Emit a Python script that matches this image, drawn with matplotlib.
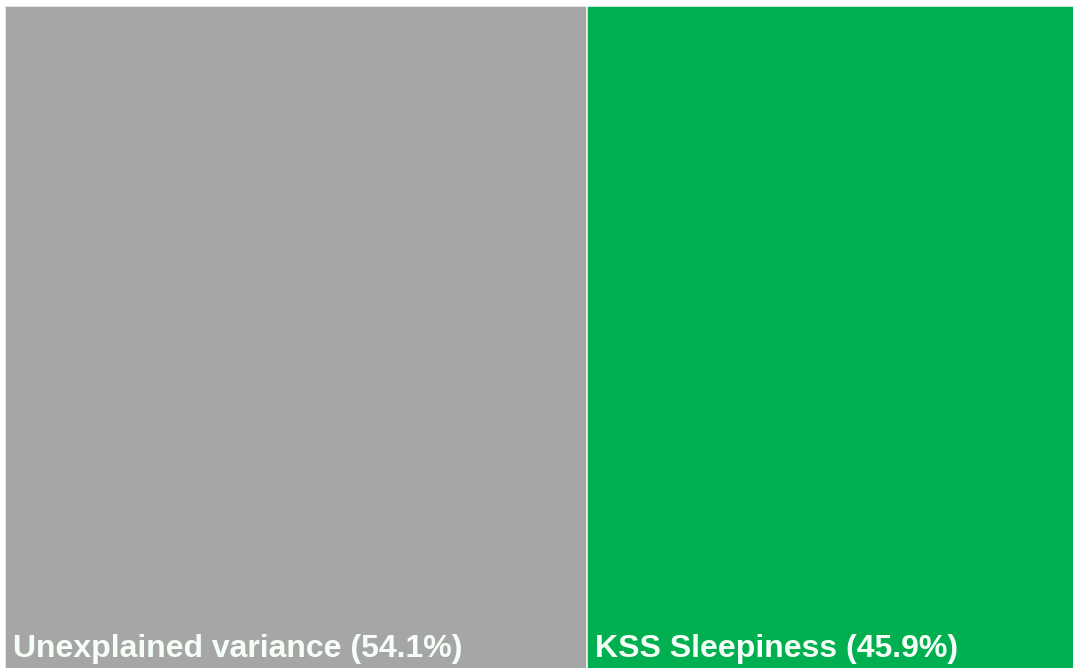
import matplotlib.pyplot as plt
import numpy as np

labels = ['Unexplained variance', 'KSS Sleepiness']
shares = [54.1, 45.9]
colors = ['#A6A6A6', '#00AF50']

W, H = 1073, 668
fig = plt.figure(figsize=(W / 100, H / 100), dpi=100)
fig.patch.set_facecolor('white')

# treemap spans 5px..1081px horizontally (right and bottom cropped), top at 6px
bot = -10
ax = fig.add_axes([5 / W, bot / H, (1081 - 5) / W, (H - 6 - bot) / H])
ax.set_xlim(0, 100)
ax.set_ylim(0, 1)
ax.axis('off')

lefts = np.concatenate([[0], np.cumsum(shares)[:-1]])
ax.bar(lefts, [1] * len(shares), width=shares, align='edge', color=colors,
       edgecolor='#F2F2F2', linewidth=1.2)

# label baseline ~11px above the figure bottom, 8px in from each tile's left edge
for l, lab, s in zip(lefts, labels, shares):
    x_px = ax.transData.transform((l, 0))[0] + 8
    ax.text(x_px / W, 11 / H, f'{lab} ({s}%)', transform=fig.transFigure,
            ha='left', va='baseline', fontsize=23, fontweight='bold',
            color='#F5FFF8', family='Liberation Sans')

fig.savefig('out.png', dpi=100, facecolor='white')
